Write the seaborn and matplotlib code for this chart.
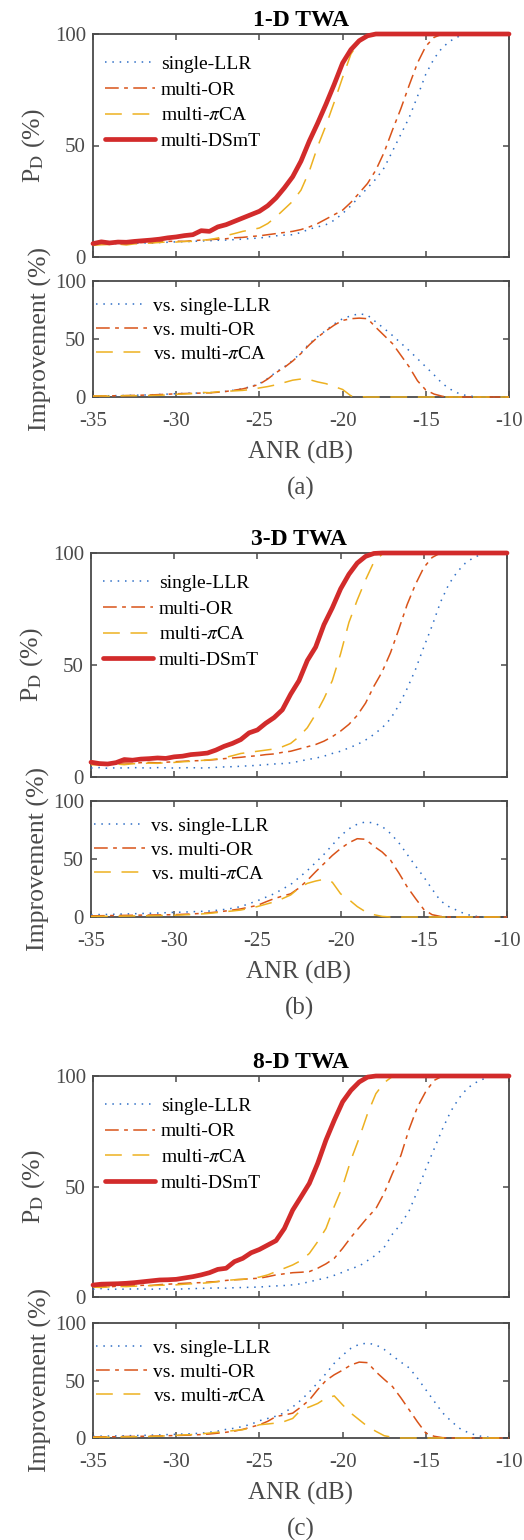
import numpy as np
import matplotlib
matplotlib.use("Agg")
import matplotlib.pyplot as plt
import seaborn as sns

# ANR axis, 0.5 dB steps from -35 to -10
anr = np.arange(-35, -9.75, 0.5)

# ---------- (a) 1-D TWA ----------
single_a = [5.8, 6.0, 5.9, 6.1, 6.0, 6.2, 6.3, 6.2, 6.5, 6.6,
            6.8, 6.9, 7.0, 7.2, 7.3, 7.5, 7.6, 7.8, 8.0, 8.3,
            8.5, 9.0, 9.5, 9.8, 10.0, 11.0, 12.5, 13.5, 14.5, 16.5,
            19.5, 23.0, 27.0, 31.0, 35.0, 40.0, 47.5, 55.0, 62.5, 72.0,
            82.0, 89.0, 94.0, 97.0, 99.0, 100, 100, 100, 100, 100, 100]
or_a = [5.9, 6.2, 6.0, 6.3, 6.1, 6.4, 6.5, 6.4, 6.8, 7.0,
        7.1, 7.0, 7.3, 7.6, 7.8, 8.0, 8.2, 8.6, 8.8, 9.2,
        9.5, 10.0, 10.5, 11.0, 11.5, 12.3, 13.5, 15.0, 17.0, 19.0,
        21.0, 24.5, 28.7, 33.0, 39.0, 47.0, 57.0, 66.5, 77.0, 87.0,
        94.5, 98.5, 100, 100, 100, 100, 100, 100, 100, 100, 100]
pica_a = [5.2, 5.5, 5.6, 5.8, 5.4, 5.9, 6.0, 6.3, 6.5, 6.8,
          6.7, 7.0, 7.0, 7.5, 7.8, 8.5, 9.6, 10.5, 11.5, 12.2,
          13.0, 15.0, 18.0, 21.5, 25.0, 30.0, 38.5, 49.5, 59.0, 69.5,
          80.5, 91.0, 96.5, 99.5, 100, 100, 100, 100, 100, 100,
          100, 100, 100, 100, 100, 100, 100, 100, 100, 100, 100]
dsmt_a = [6.0, 6.8, 6.3, 6.7, 6.6, 7.0, 7.3, 7.6, 8.0, 8.6,
          9.0, 9.6, 10.0, 11.8, 11.5, 13.5, 14.5, 16.0, 17.5, 19.0,
          20.5, 23.0, 26.5, 31.0, 36.0, 43.0, 52.0, 60.0, 68.5, 77.5,
          87.0, 93.0, 97.0, 99.2, 100, 100, 100, 100, 100, 100,
          100, 100, 100, 100, 100, 100, 100, 100, 100, 100, 100]
imp_single_a = [0.9, 1.0, 1.1, 1.2, 1.3, 1.5, 1.7, 1.9, 2.2, 2.5,
                2.9, 3.1, 3.3, 3.5, 3.7, 4.2, 4.9, 6.0, 7.2, 9.0,
                11.5, 16.0, 21.5, 26.0, 31.6, 38.0, 46.0, 52.0, 57.5, 63.0,
                67.5, 70.0, 71.8, 70.5, 64.7, 59.0, 53.0, 46.5, 40.0, 33.0,
                26.0, 19.0, 11.5, 6.5, 2.9, 1.0, 0.3, 0, 0, 0, 0]
imp_or_a = [0.8, 0.9, 1.0, 1.1, 1.2, 1.4, 1.6, 1.8, 2.1, 2.4,
            2.8, 3.0, 3.2, 3.4, 3.6, 4.1, 4.8, 5.9, 7.0, 8.8,
            11.0, 15.5, 21.0, 25.5, 31.0, 37.5, 45.0, 51.5, 57.0, 62.0,
            66.0, 67.5, 68.0, 67.5, 60.0, 53.0, 46.0, 36.0, 26.0, 14.0,
            6.0, 2.5, 0.6, 0, 0, 0, 0, 0, 0, 0, 0]
imp_pica_a = [0.8, 0.9, 0.7, 0.9, 1.2, 1.1, 1.3, 1.3, 1.5, 1.8,
              2.3, 2.6, 3.0, 4.0, 3.7, 4.5, 4.9, 5.3, 5.7, 6.5,
              7.8, 9.0, 10.5, 12.5, 14.5, 15.5, 15.0, 13.0, 11.5, 9.0,
              6.5, 1.0, 0.3, 0, 0, 0, 0, 0, 0, 0,
              0, 0, 0, 0, 0, 0, 0, 0, 0, 0, 0]

# ---------- (b) 3-D TWA ----------
single_b = [4.0, 4.2, 3.9, 4.1, 4.0, 4.2, 4.1, 4.0, 4.2, 4.1,
            4.0, 4.1, 4.2, 4.0, 4.1, 4.3, 4.5, 4.6, 4.8, 5.0,
            5.2, 5.5, 5.8, 6.0, 6.3, 7.0, 7.8, 8.4, 9.3, 10.5,
            11.5, 13.0, 14.5, 16.5, 19.0, 22.0, 26.0, 32.0, 39.5, 48.0,
            58.0, 67.5, 78.0, 86.0, 91.5, 95.5, 98.0, 99.5, 100, 100, 100]
or_b = [6.0, 5.8, 6.2, 6.0, 6.3, 6.1, 6.4, 6.5, 6.3, 6.6,
        6.8, 7.0, 7.2, 7.3, 7.5, 7.8, 8.2, 8.5, 8.8, 9.2,
        9.5, 10.0, 10.3, 11.0, 11.5, 12.5, 13.5, 14.5, 16.0, 18.0,
        20.5, 23.5, 27.5, 33.0, 40.5, 47.0, 55.5, 66.0, 77.0, 86.0,
        93.5, 98.0, 100, 100, 100, 100, 100, 100, 100, 100, 100]
pica_b = [5.5, 5.3, 5.6, 5.8, 5.5, 5.9, 6.0, 6.2, 6.1, 6.4,
          6.5, 6.8, 7.0, 7.3, 7.6, 8.0, 8.6, 9.5, 10.5, 11.0,
          11.5, 12.0, 12.5, 13.5, 15.0, 18.0, 22.0, 28.0, 35.0, 43.0,
          55.0, 69.0, 79.0, 88.0, 96.0, 99.5, 100, 100, 100, 100,
          100, 100, 100, 100, 100, 100, 100, 100, 100, 100, 100]
dsmt_b = [6.6, 6.0, 5.8, 6.4, 7.8, 7.5, 8.0, 8.2, 8.5, 8.3,
          9.0, 9.3, 10.0, 10.3, 10.7, 12.0, 13.7, 15.0, 16.7, 19.7,
          21.0, 24.0, 26.5, 30.0, 37.0, 43.0, 52.0, 58.0, 68.0, 75.5,
          84.0, 90.5, 95.5, 98.5, 99.8, 100, 100, 100, 100, 100,
          100, 100, 100, 100, 100, 100, 100, 100, 100, 100, 100]
imp_single_b = [2.0, 2.1, 2.2, 2.4, 2.6, 2.8, 3.0, 3.2, 3.4, 3.7,
                4.0, 4.2, 4.5, 4.8, 5.0, 5.7, 6.5, 7.5, 9.0, 11.5,
                14.0, 17.0, 20.0, 24.0, 28.0, 34.0, 40.0, 47.0, 54.0, 62.0,
                70.0, 76.0, 80.0, 82.0, 81.0, 78.0, 72.0, 64.0, 54.0, 44.0,
                34.5, 24.0, 14.0, 9.0, 5.7, 2.5, 0.8, 0.2, 0, 0, 0]
imp_or_b = [1.0, 1.1, 1.2, 1.3, 1.4, 1.5, 1.6, 1.7, 1.8, 1.9,
            2.0, 2.3, 2.6, 3.0, 3.5, 4.2, 5.0, 6.0, 7.0, 8.5,
            10.0, 13.0, 15.8, 18.0, 20.0, 25.0, 31.6, 39.0, 46.0, 53.0,
            59.0, 64.0, 67.5, 67.0, 61.0, 56.0, 49.0, 38.0, 26.0, 16.0,
            6.5, 2.0, 0.5, 0, 0, 0, 0, 0, 0, 0, 0]
imp_pica_b = [0.5, 0.6, 0.6, 0.7, 0.8, 0.9, 1.0, 1.1, 1.2, 1.4,
              1.5, 1.8, 2.1, 2.5, 3.0, 3.7, 4.5, 5.2, 6.0, 7.5,
              9.0, 11.0, 13.0, 15.8, 19.0, 25.0, 29.0, 31.0, 32.5, 30.0,
              20.0, 15.0, 9.0, 4.5, 2.0, 0.5, 0, 0, 0, 0,
              0, 0, 0, 0, 0, 0, 0, 0, 0, 0, 0]

# ---------- (c) 8-D TWA ----------
single_c = [3.5, 3.8, 3.4, 3.6, 3.5, 3.7, 3.6, 3.5, 3.7, 3.6,
            3.5, 3.7, 3.8, 3.9, 4.0, 4.1, 4.0, 4.2, 4.3, 4.4,
            4.5, 4.8, 5.0, 5.2, 5.5, 6.0, 6.9, 7.8, 8.6, 9.8,
            11.2, 12.8, 14.0, 16.5, 19.0, 22.5, 28.5, 33.0, 39.0, 48.0,
            58.0, 67.0, 76.0, 84.0, 90.0, 94.5, 97.0, 98.8, 100, 100, 100]
or_c = [4.5, 4.8, 4.6, 4.9, 5.0, 5.1, 5.3, 5.2, 5.6, 5.8,
        6.0, 6.2, 6.4, 6.5, 6.8, 7.0, 7.5, 7.8, 8.0, 8.3,
        8.5, 9.2, 10.0, 10.5, 11.0, 11.2, 11.5, 13.0, 15.0, 17.5,
        22.0, 27.0, 31.5, 36.0, 40.0, 47.0, 56.0, 64.0, 76.0, 86.0,
        93.0, 98.0, 100, 100, 100, 100, 100, 100, 100, 100, 100]
pica_c = [4.5, 4.3, 4.6, 4.8, 4.7, 4.9, 5.0, 5.2, 5.3, 5.4,
          5.5, 5.8, 6.0, 6.2, 6.5, 7.0, 7.5, 7.8, 8.0, 8.5,
          9.0, 10.0, 11.5, 13.0, 14.5, 16.5, 19.7, 25.0, 31.0, 41.0,
          50.0, 62.0, 72.0, 83.0, 92.0, 97.0, 99.8, 100, 100, 100,
          100, 100, 100, 100, 100, 100, 100, 100, 100, 100, 100]
dsmt_c = [5.4, 5.8, 5.9, 6.0, 6.2, 6.5, 6.9, 7.3, 7.7, 7.8,
          8.0, 8.6, 9.2, 10.0, 11.0, 12.5, 13.0, 16.0, 17.5, 20.0,
          21.5, 23.5, 25.5, 31.0, 39.3, 45.3, 51.4, 60.4, 71.0, 80.0,
          88.3, 93.5, 97.3, 99.5, 100, 100, 100, 100, 100, 100,
          100, 100, 100, 100, 100, 100, 100, 100, 100, 100, 100]
imp_single_c = [1.5, 1.6, 1.7, 1.8, 2.0, 2.1, 2.3, 2.5, 2.7, 3.0,
                3.2, 3.5, 3.8, 4.2, 5.0, 6.0, 7.5, 8.5, 10.0, 12.0,
                15.0, 17.0, 19.0, 22.0, 27.0, 33.0, 40.0, 48.0, 56.0, 65.0,
                72.0, 78.0, 81.5, 82.5, 81.0, 77.0, 71.5, 66.0, 61.0, 52.0,
                42.0, 32.0, 22.0, 15.0, 8.6, 5.0, 2.5, 1.0, 0.3, 0, 0]
imp_or_c = [1.0, 1.1, 1.0, 1.2, 1.3, 1.4, 1.5, 1.6, 1.8, 2.0,
            2.2, 2.4, 2.6, 3.0, 3.5, 4.2, 5.0, 6.0, 7.5, 9.5,
            11.5, 14.5, 18.7, 20.0, 21.6, 27.0, 33.0, 42.0, 50.0, 55.0,
            59.0, 63.5, 66.0, 65.5, 57.6, 51.0, 44.7, 35.0, 24.5, 14.0,
            4.3, 1.5, 0.3, 0, 0, 0, 0, 0, 0, 0, 0]
imp_pica_c = [0.6, 0.8, 0.7, 0.9, 1.0, 1.1, 1.2, 1.4, 1.6, 2.0,
              2.3, 2.7, 3.0, 3.6, 4.3, 5.0, 5.8, 6.5, 7.2, 9.0,
              11.5, 12.2, 13.0, 14.4, 17.0, 24.5, 27.0, 30.0, 34.6, 36.6,
              28.8, 21.6, 15.8, 10.0, 5.8, 2.0, 0.6, 0, 0, 0,
              0, 0, 0, 0, 0, 0, 0, 0, 0, 0, 0]

titles = ["1-D TWA", "3-D TWA", "8-D TWA"]
tags = ["(a)", "(b)", "(c)"]
pd_labels = ["single-LLR", "multi-OR", r"multi-$\pi$CA", "multi-DSmT"]
imp_labels = ["vs. single-LLR", "vs. multi-OR", r"vs. multi-$\pi$CA"]

sns.set_style("ticks")
plt.rcParams["font.family"] = ["Liberation Serif", "DejaVu Serif"]
plt.rcParams["mathtext.fontset"] = "stix"
plt.rcParams["axes.unicode_minus"] = False

grey = "#4a4a4a"
styles = [dict(color="#2f6fc6", lw=1.1, linestyle=(0, (1, 3.8))),
          dict(color="#D95319", lw=1.1, linestyle=(0, (9, 3.5, 2.5, 3.5))),
          dict(color="#EDB120", lw=1.1, linestyle=(0, (11, 7))),
          dict(color="#D22B2B", lw=3.4, linestyle="-")]

W, H = 524, 1540
fig = plt.figure(figsize=(W / 100, H / 100), dpi=100)

# pixel boxes: left, right, top-axes (top, bottom), improvement-axes (top, bottom)
boxes = [(93, 509, 34, 257, 281, 397),
         (91, 507, 553, 777, 801, 917),
         (93, 509, 1076, 1297, 1323, 1438)]

panels = [
    ([single_a, or_a, pica_a, dsmt_a], [imp_single_a, imp_or_a, imp_pica_a]),
    ([single_b, or_b, pica_b, dsmt_b], [imp_single_b, imp_or_b, imp_pica_b]),
    ([single_c, or_c, pica_c, dsmt_c], [imp_single_c, imp_or_c, imp_pica_c]),
]


def style_axes(ax):
    ax.set_xlim(-35, -10)
    ax.set_ylim(0, 100)
    ax.set_xticks([-35, -30, -25, -20, -15, -10])
    ax.set_yticks([0, 50, 100])
    ax.tick_params(direction="in", top=True, right=True, length=4, width=1.1,
                   colors=grey, labelsize=15, pad=5)
    ax.tick_params(axis="x", pad=11)
    for s in ax.spines.values():
        s.set_color(grey)
        s.set_linewidth(1.3)


for i, (pd_series, imp_series) in enumerate(panels):
    l, r, t1, b1, t2, b2 = boxes[i]
    ax1 = fig.add_axes([l / W, 1 - b1 / H, (r - l) / W, (b1 - t1) / H])
    ax2 = fig.add_axes([l / W, 1 - b2 / H, (r - l) / W, (b2 - t2) / H])

    for vals, lab, st in zip(pd_series, pd_labels, styles):
        sns.lineplot(x=anr, y=vals, ax=ax1, label=lab, clip_on=False, zorder=3, **st)
    for vals, lab, st in zip(imp_series, imp_labels, styles[:3]):
        sns.lineplot(x=anr, y=vals, ax=ax2, label=lab, clip_on=False, zorder=3, **st)

    style_axes(ax1)
    style_axes(ax2)
    ax1.tick_params(labelbottom=False)

    ax1.set_title(titles[i], fontsize=17, fontweight="bold", color="black", pad=5.5)
    ax1.set_ylabel(r"P$_{\rm D}$ (%)", fontsize=18.5, color=grey, labelpad=6)
    ax2.set_ylabel("Improvement (%)", fontsize=18.5, color=grey, labelpad=2)
    ax2.set_xlabel("ANR (dB)", fontsize=18, color=grey, labelpad=7)

    ax1.legend(loc="upper left", bbox_to_anchor=(0.028, 0.905), frameon=False,
               fontsize=14, borderpad=0, borderaxespad=0, handlelength=2.6,
               handletextpad=0.3, labelspacing=0.42, labelcolor="black")
    ax2.legend(loc="upper left", bbox_to_anchor=(0.008, 0.86), frameon=False,
               fontsize=14, borderpad=0, borderaxespad=0, handlelength=2.6,
               handletextpad=0.3, labelspacing=0.33, labelcolor="black")

    fig.text((l + r) / 2 / W, 1 - (b2 + 91) / H, tags[i], ha="center",
             va="center", fontsize=18, color=grey)

fig.savefig("out.png", dpi=100)
